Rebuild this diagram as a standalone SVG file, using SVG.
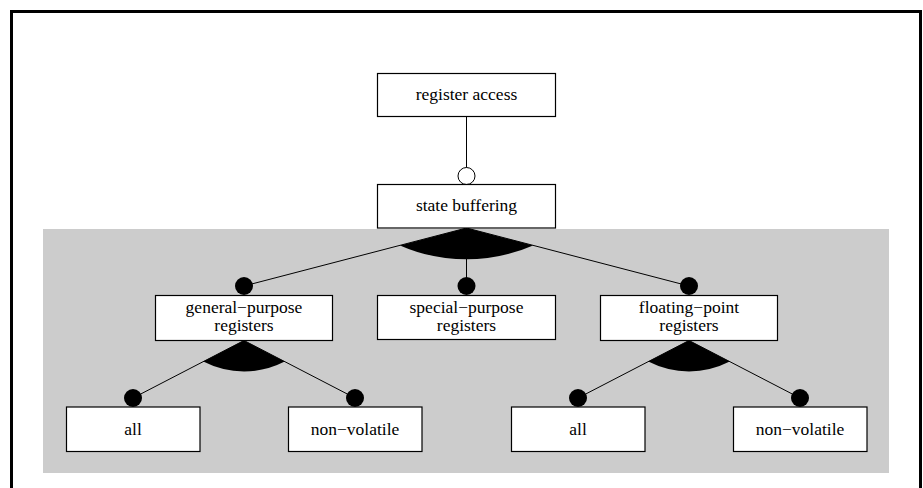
<svg xmlns="http://www.w3.org/2000/svg" width="923" height="488" viewBox="0 0 923 488">
<style>
.box{fill:#fff;stroke:#000;stroke-width:1.2}
.lbl{font-family:"Liberation Serif","Times New Roman",serif;font-size:17.5px;fill:#000;text-anchor:middle}
.ln{stroke:#000;stroke-width:1;fill:none}
.dot{fill:#000}
.wedge{fill:#000;stroke:none}
</style>
<rect x="0" y="0" width="923" height="488" fill="#fff"/>
<rect x="11.5" y="11.5" width="909" height="500" fill="none" stroke="#000" stroke-width="3"/>
<rect x="43" y="229" width="846" height="244" fill="#cccccc"/>
<g id="connectors">
<line class="ln" x1="466.5" y1="116" x2="466.5" y2="168"/>
<circle cx="466.5" cy="176" r="8.5" fill="#fff" stroke="#000" stroke-width="1"/>
<line class="ln" x1="466.5" y1="228" x2="244" y2="286"/>
<line class="ln" x1="466.5" y1="228" x2="466.5" y2="286"/>
<line class="ln" x1="466.5" y1="228" x2="689" y2="286"/>
<path class="wedge" d="M466.5,228 L400,245.4 A166,166 0 0 0 533,245.4 Z"/>
<circle class="dot" cx="244" cy="286" r="9"/>
<circle class="dot" cx="466.5" cy="286" r="9"/>
<circle class="dot" cx="689" cy="286" r="9"/>
<line class="ln" x1="244" y1="340.5" x2="133" y2="398"/>
<line class="ln" x1="244" y1="340.5" x2="355" y2="398"/>
<path class="wedge" d="M244,340.5 L203.3,361.6 A89,89 0 0 0 284.7,361.6 Z"/>
<circle class="dot" cx="133" cy="398" r="9"/>
<circle class="dot" cx="355" cy="398" r="9"/>
<line class="ln" x1="689" y1="340.5" x2="578" y2="398"/>
<line class="ln" x1="689" y1="340.5" x2="800" y2="398"/>
<path class="wedge" d="M689,340.5 L648.3,361.6 A89,89 0 0 0 729.7,361.6 Z"/>
<circle class="dot" cx="578" cy="398" r="9"/>
<circle class="dot" cx="800" cy="398" r="9"/>
</g>
<g id="register-access">
<rect class="box" x="377.5" y="73.5" width="178" height="43"/>
<text class="lbl" x="466.5" y="99.5">register access</text>
</g>
<g id="state-buffering">
<rect class="box" x="377.5" y="184.5" width="178" height="43.5"/>
<text class="lbl" x="466.5" y="210.5">state buffering</text>
</g>
<g id="general-purpose">
<rect class="box" x="155.5" y="295.5" width="177" height="45"/>
<text class="lbl" x="244" y="312.5">general−purpose</text>
<text class="lbl" x="244" y="330.5">registers</text>
</g>
<g id="special-purpose">
<rect class="box" x="377.5" y="295.5" width="178" height="44"/>
<text class="lbl" x="466.5" y="312.5">special−purpose</text>
<text class="lbl" x="466.5" y="330.5">registers</text>
</g>
<g id="floating-point">
<rect class="box" x="600.5" y="295.5" width="177" height="45"/>
<text class="lbl" x="689" y="312.5">floating−point</text>
<text class="lbl" x="689" y="330.5">registers</text>
</g>
<g id="gp-all">
<rect class="box" x="66.5" y="407" width="133.5" height="44.5"/>
<text class="lbl" x="133" y="435">all</text>
</g>
<g id="gp-nonvolatile">
<rect class="box" x="288.5" y="407" width="133.5" height="44.5"/>
<text class="lbl" x="355" y="435">non−volatile</text>
</g>
<g id="fp-all">
<rect class="box" x="511.5" y="407" width="133.5" height="44.5"/>
<text class="lbl" x="578" y="435">all</text>
</g>
<g id="fp-nonvolatile">
<rect class="box" x="733.5" y="407" width="133.5" height="44.5"/>
<text class="lbl" x="800" y="435">non−volatile</text>
</g>
</svg>
